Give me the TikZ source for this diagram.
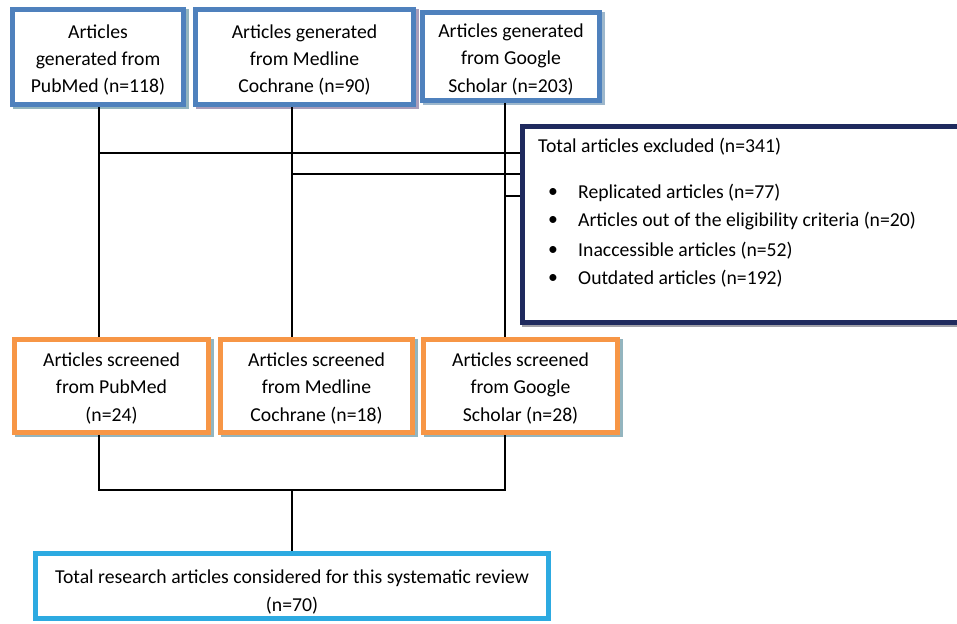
\documentclass[tikz,border=0pt]{standalone}
\usepackage{fontspec}
\setmainfont{Carlito}
\usetikzlibrary{shadows}
\definecolor{topblue}{HTML}{4F81BD}
\definecolor{navy}{HTML}{1F2A5E}
\definecolor{orng}{HTML}{F79646}
\definecolor{cyanb}{HTML}{2DAAE1}
\definecolor{shA}{HTML}{93B5BF}
\definecolor{shB}{HTML}{A99DBA}
\definecolor{shC}{HTML}{9DB7CC}
\definecolor{shG}{HTML}{A0A0A8}
\begin{document}
\begin{tikzpicture}[x=1pt,y=-1pt,
  txt/.style={font=\fontsize{19.7}{27.3}\selectfont},
  boxbase/.style={draw, line width=5pt, fill=white, inner sep=0pt},
  boxtext/.style={txt, align=center, inner sep=0pt},
  topbox/.style={boxbase, draw=topblue},
  scrbox/.style={boxbase, draw=orng},
  shad/.style={drop shadow={shadow xshift=2.5pt, shadow yshift=-2.5pt, fill=#1, draw=#1, line width=5pt, opacity=1}},
  conn/.style={draw=black, line width=1.5pt}
]
\useasboundingbox (0,0) rectangle (957,623);

% top boxes
\node[topbox, shad=shA, minimum width=171pt, minimum height=95pt] (t1) at (98,57) {};
\node[topbox, shad=shB, minimum width=218pt, minimum height=95pt] (t2) at (304.5,57) {};
\node[topbox, shad=shC, minimum width=177pt, minimum height=88pt] (t3) at (511,56.5) {};
\node[boxtext, yshift=-3pt] (t1x) at (t1.center) {Articles\\generated from\\PubMed (n=118)};
\node[boxtext, yshift=-3pt] (t2x) at (t2.center) {Articles generated\\from Medline\\Cochrane (n=90)};
\node[boxtext, yshift=-3pt] (t3x) at (t3.center) {Articles generated\\from Google\\Scholar (n=203)};

% excluded box
\node[boxbase, draw=navy, line width=4.5pt, shad=shG, minimum width=460pt, minimum height=196pt, anchor=north west] (ex) at (520,124) {};
\node[txt, anchor=west, inner sep=0pt] (exT) at (538,147) {Total articles excluded (n=341)};
\node[txt, anchor=west, inner sep=0pt] (b1) at (578,193) {Replicated articles (n=77)};
\node[txt, anchor=west, inner sep=0pt] (b2) at (578,221) {Articles out of the eligibility criteria (n=20)};
\node[txt, anchor=west, inner sep=0pt] (b3) at (578,251) {Inaccessible articles (n=52)};
\node[txt, anchor=west, inner sep=0pt] (b4) at (578,279) {Outdated articles (n=192)};
\foreach \n in {b1,b2,b3,b4}
  \node[txt, inner sep=0pt] at (\n.west -| 553,0) {\textbullet};

% screened boxes
\node[scrbox, shad=shA, minimum width=194pt, minimum height=93pt] (s1) at (111.5,385.5) {};
\node[scrbox, shad=shA, minimum width=192pt, minimum height=93pt] (s2) at (316.5,385.5) {};
\node[scrbox, shad=shA, minimum width=194pt, minimum height=93pt] (s3) at (520.5,385.5) {};
\node[boxtext, yshift=-3pt] (s1x) at (s1.center) {Articles screened\\from PubMed\\(n=24)};
\node[boxtext, yshift=-3pt] (s2x) at (s2.center) {Articles screened\\from Medline\\Cochrane (n=18)};
\node[boxtext, yshift=-3pt] (s3x) at (s3.center) {Articles screened\\from Google\\Scholar (n=28)};

% final box
\node[boxbase, draw=cyanb, minimum width=513pt, minimum height=65pt] (f) at (292,586) {};
\node[boxtext, yshift=-6pt] (fx) at (f.center) {Total research articles considered for this systematic review\\(n=70)};

% connector guide coordinates
\coordinate (v1) at (99,0);
\coordinate (v2) at (292,0);
\coordinate (v3) at (505,0);
\coordinate (h1) at (0,153);
\coordinate (h2) at (0,174);
\coordinate (h3) at (0,196);
\coordinate (j) at (0,490);

\draw[conn] (t1.south -| v1) -- (s1.north -| v1);
\draw[conn] (t2.south -| v2) -- (s2.north -| v2);
\draw[conn] (t3.south -| v3) -- (s3.north -| v3);
\draw[conn] (v1 |- h1) -- (ex.west |- h1);
\draw[conn] (v2 |- h2) -- (ex.west |- h2);
\draw[conn] (v3 |- h3) -- (ex.west |- h3);
\draw[conn] (s1.south -| v1) -- (v1 |- j) -- (v3 |- j) -- (s3.south -| v3);
\draw[conn] (v2 |- j) -- (f.north -| v2);
\end{tikzpicture}
\end{document}
